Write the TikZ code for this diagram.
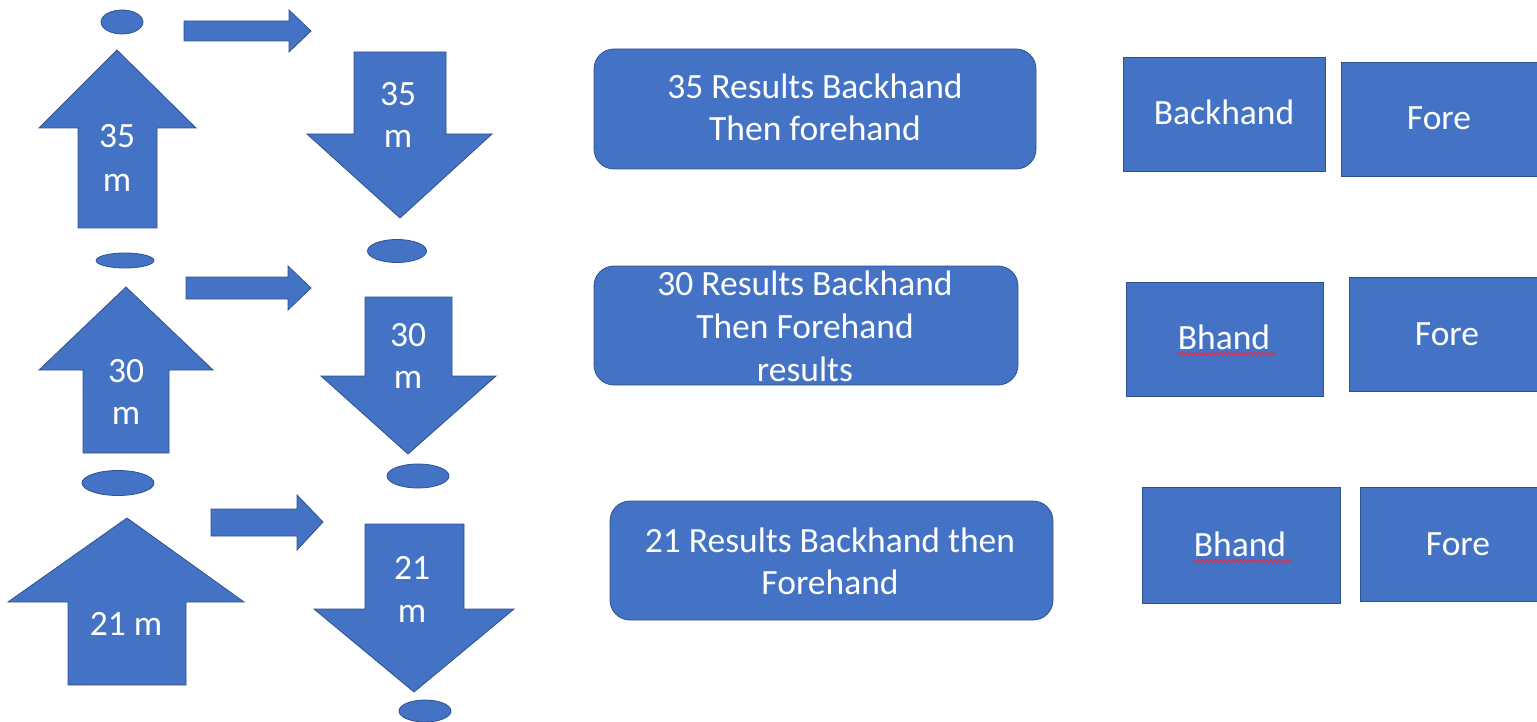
\documentclass[tikz,border=0pt]{standalone}
\usepackage{fontspec}
\setmainfont{Carlito}
\usetikzlibrary{shapes.geometric,decorations.pathmorphing}
\definecolor{obf}{HTML}{4472C4}
\definecolor{obd}{HTML}{2F528F}
\definecolor{spell}{HTML}{E0304A}
\tikzset{
  shp/.style={fill=obf,draw=obd,line width=0.8pt},
  oval/.style={shp,ellipse,inner sep=0pt},
  rbox/.style={shp,rectangle,rounded corners=20pt,inner sep=0pt},
  sbox/.style={shp,rectangle,inner sep=0pt},
  lbl/.style={text=white,anchor=base,inner sep=0pt,font=\fontsize{35.5}{42}\selectfont},
  squig/.style={draw=spell,line width=1.1pt,decorate,decoration={zigzag,amplitude=1.4pt,segment length=3.8pt}}
}
\begin{document}
\begin{tikzpicture}[x=1pt,y=-1pt]
\useasboundingbox (0,0) rectangle (1537,722);

% ---- ellipses ----
\node[oval,minimum width=42pt,minimum height=24pt] (e1) at (122,22) {};
\node[oval,minimum width=59pt,minimum height=23pt] (e2) at (397,251) {};
\node[oval,minimum width=58pt,minimum height=15pt] (e3) at (125,260.5) {};
\node[oval,minimum width=62pt,minimum height=24pt] (e4) at (418,476) {};
\node[oval,minimum width=72pt,minimum height=25pt] (e5) at (118,483) {};
\node[oval,minimum width=52pt,minimum height=22pt] (e6) at (425,711) {};

% ---- block arrows ----
% row 1
\draw[shp] (78,228) -- (78,128) -- (39,128) -- (117,50) -- (196,128) -- (157,128) -- (157,228) -- cycle;
\draw[shp] (184,21) -- (289,21) -- (289,10) -- (311,31) -- (289,52) -- (289,41) -- (184,41) -- cycle;
\draw[shp] (354,52) -- (446,52) -- (446,134) -- (492,134) -- (400,218) -- (307,134) -- (354,134) -- cycle;
% row 2
\draw[shp] (83,453) -- (83,370) -- (39,370) -- (126,287) -- (213,370) -- (169,370) -- (169,453) -- cycle;
\draw[shp] (186,277) -- (288,277) -- (288,266) -- (311,288) -- (288,310) -- (288,299) -- (186,299) -- cycle;
\draw[shp] (365,297) -- (452,297) -- (452,376) -- (496,376) -- (408,454) -- (321,376) -- (365,376) -- cycle;
% row 3
\draw[shp] (68,685) -- (68,602) -- (8,602) -- (127,518) -- (244,602) -- (186,602) -- (186,685) -- cycle;
\draw[shp] (211,509) -- (297,509) -- (297,495) -- (323,522) -- (297,550) -- (297,536) -- (211,536) -- cycle;
\draw[shp] (365,524) -- (464,524) -- (464,609) -- (514,609) -- (414,692) -- (314,609) -- (365,609) -- cycle;

% arrow labels
\node[lbl] (u35a) at (117,148) {35};
\node[lbl] (u35b) at (117,192) {m};
\node[lbl] (d35a) at (398,106) {35};
\node[lbl] (d35b) at (398,148) {m};
\node[lbl] (u30a) at (126,382) {30};
\node[lbl] (u30b) at (126,424) {m};
\node[lbl] (d30a) at (408,346) {30};
\node[lbl] (d30b) at (408,388) {m};
\node[lbl] (u21) at (126,635) {21 m};
\node[lbl] (d21a) at (412,579) {21};
\node[lbl] (d21b) at (412,622) {m};

% ---- rounded result boxes ----
\node[rbox,minimum width=442pt,minimum height=120pt] (r1) at (815,109) {};
\node[rbox,minimum width=424pt,minimum height=119pt] (r2) at (806,325.5) {};
\node[rbox,minimum width=443pt,minimum height=119pt] (r3) at (831.5,560.5) {};
\node[lbl] (r1a) at (815,99) {35 Results Backhand};
\node[lbl] (r1b) at (815,141) {Then forehand};
\node[lbl] (r2a) at (805,295) {30 Results Backhand};
\node[lbl] (r2b) at (805,338) {Then Forehand};
\node[lbl] (r2c) at (805,381) {results};
\node[lbl] (r3a) at (830,552) {21 Results Backhand then};
\node[lbl] (r3b) at (830,594) {Forehand};

% ---- square boxes ----
\node[sbox,minimum width=202pt,minimum height=114pt] (b1) at (1224,114) {};
\node[sbox,minimum width=204pt,minimum height=114pt] (f1) at (1443,119) {};
\node[sbox,minimum width=197pt,minimum height=114pt] (b2) at (1224.5,339) {};
\node[sbox,minimum width=196pt,minimum height=114pt] (f2) at (1447,334) {};
\node[sbox,minimum width=198pt,minimum height=116pt] (b3) at (1241,545) {};
\node[sbox,minimum width=185pt,minimum height=114pt] (f3) at (1452.5,544) {};
\node[lbl] (b1t) at (1224,125) {Backhand};
\node[lbl] (f1t) at (1439,130) {Fore};
\node[lbl] (b2t) at (1224,349) {Bhand};
\node[lbl] (f2t) at (1447,345) {Fore};
\node[lbl] (b3t) at (1240,556) {Bhand};
\node[lbl] (f3t) at (1458,555) {Fore};
\path[squig] (b2t.base west) ++(0,5) -- ++(98,0);
\path[squig] (b3t.base west) ++(0,5) -- ++(98,0);
\end{tikzpicture}
\end{document}
